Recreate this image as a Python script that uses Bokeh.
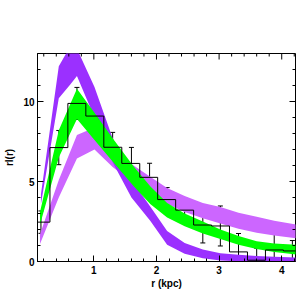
import math
from bokeh.plotting import figure
from bokeh.models import Range1d, ColumnDataSource, Whisker, TeeHead, FixedTicker
from bokeh.embed import file_html
from bokeh.resources import INLINE

# ---------------- data ----------------
# histogram (binned profile)
bin_edges = [0.012, 0.299, 0.585, 0.872, 1.159, 1.446, 1.733, 2.019, 2.306,
             2.593, 2.880, 3.166, 3.453, 3.740, 4.027, 4.314]
bin_centers = [0.155, 0.44, 0.73, 1.01, 1.30, 1.60, 1.89, 2.17, 2.45,
               2.74, 3.02, 3.31, 3.60, 3.88, 4.17]
hist_vals = [2.46, 7.12, 9.88, 9.09, 7.14, 6.13, 5.26, 3.87, 3.21,
             2.28, 2.22, 0.60, 0.08, 0.72, 0.66]
hist_err = [0.70, 1.07, 1.00, 0.90, 0.93, 1.00, 0.88, 0.75, 0.76,
            1.12, 1.25, 1.15, 0.75, 1.00, 0.65]

# dark purple band
purple_x = [0.155, 0.44, 0.63, 0.73, 1.01, 1.30, 1.60, 1.90, 2.17, 2.45,
            2.74, 3.02, 3.31, 3.60, 3.88, 4.25]
purple_hi = [4.2, 12.2, 13.5, 13.3, 10.9, 7.7, 5.1, 3.43, 1.9, 1.15,
             0.75, 0.52, 0.42, 0.35, 0.30, 0.25]
purple_lo = [3.6, 10.2, 11.1, 11.6, 9.0, 6.2, 4.0, 2.55, 1.05, 0.48,
             0.2, 0.06, 0.02, 0.0, 0.0, 0.0]

# green band
green_x = [0.14, 0.44, 0.73, 1.01, 1.30, 1.64, 1.90, 2.17, 2.45, 2.74,
           3.02, 3.31, 3.60, 3.88, 4.25]
green_hi = [3.1, 8.2, 10.8, 9.3, 7.7, 5.92, 4.7, 3.65, 3.0, 2.5,
            2.0, 1.6, 1.27, 1.12, 1.05]
green_lo = [2.3, 6.5, 8.9, 7.6, 6.25, 4.68, 3.6, 2.75, 2.2, 1.75,
            1.4, 1.05, 0.78, 0.6, 0.43]

# light purple (orchid) band
orchid_x = [0.14, 0.44, 0.73, 1.01, 1.30, 1.60, 1.90, 2.17, 2.45, 2.74,
            3.02, 3.31, 3.60, 3.88, 4.25]
orchid_hi = [1.7, 5.1, 7.9, 8.37, 7.2, 6.1, 5.3, 4.6, 4.1, 3.65,
             3.4, 3.05, 2.8, 2.55, 2.3]
orchid_lo = [1.1, 4.0, 6.44, 7.0, 5.9, 5.0, 4.35, 3.6, 3.1, 2.7,
             2.38, 2.05, 1.8, 1.62, 1.45]

x_range = (0.1, 4.22)
y_range = (0, 13)
x_ticks = [1, 2, 3, 4]
x_minor = [0.2, 0.4, 0.6, 0.8, 1.2, 1.4, 1.6, 1.8, 2.2, 2.4, 2.6, 2.8,
           3.2, 3.4, 3.6, 3.8, 4.2]
y_ticks = [0, 5, 10]
y_minor = [1, 2, 3, 4, 6, 7, 8, 9, 11, 12, 13]

# ---------------- figure ----------------
p = figure(width=299, height=291, output_backend="svg", toolbar_location=None,
           x_range=Range1d(*x_range), y_range=Range1d(*y_range),
           min_border_left=37, min_border_right=4, min_border_top=53,
           min_border_bottom=0)
p.grid.visible = False
p.outline_line_color = "black"
p.outline_line_width = 1
p.background_fill_color = "white"
p.border_fill_color = "white"

p.varea(x=orchid_x, y1=orchid_lo, y2=orchid_hi, fill_color="#cc66ff")
p.varea(x=purple_x, y1=purple_lo, y2=purple_hi, fill_color="#9b30ff")
p.varea(x=green_x, y1=green_lo, y2=green_hi, fill_color="#00ff00")

p.step(x=bin_edges, y=hist_vals + [hist_vals[-1]], mode="after",
       line_color="black", line_width=1)

src = ColumnDataSource(dict(
    x=bin_centers,
    lo=[v - e for v, e in zip(hist_vals, hist_err)],
    hi=[v + e for v, e in zip(hist_vals, hist_err)],
))
w = Whisker(source=src, base="x", lower="lo", upper="hi", line_color="black",
            line_width=1,
            upper_head=TeeHead(size=5, line_color="black", line_width=1),
            lower_head=TeeHead(size=5, line_color="black", line_width=1))
p.add_layout(w)

font = "Liberation Sans"

def style(ax):
    ax.major_tick_in = 6
    ax.major_tick_out = 0
    ax.minor_tick_in = 3
    ax.minor_tick_out = 0
    ax.axis_line_color = "black"
    ax.major_tick_line_color = "black"
    ax.minor_tick_line_color = "black"
    ax.major_label_text_font = font
    ax.major_label_text_font_style = "bold"
    ax.major_label_text_font_size = "10px"
    ax.major_label_text_color = "black"
    ax.axis_label_text_font = font
    ax.axis_label_text_font_style = "bold"
    ax.axis_label_text_font_size = "10px"
    ax.axis_label_text_color = "black"

xa = p.xaxis[0]
xa.ticker = FixedTicker(ticks=x_ticks, minor_ticks=x_minor)
xa.axis_label = "r (kpc)"
style(xa)
xa.major_label_standoff = 4
xa.axis_label_standoff = 1

ya = p.yaxis[0]
ya.ticker = FixedTicker(ticks=y_ticks, minor_ticks=y_minor)
ya.axis_label = "rl(r)"
style(ya)
ya.major_label_standoff = 3
ya.axis_label_standoff = 5

# inward ticks along the top and right edges of the frame (screen-length rays)
p.ray(x=x_ticks, y=[y_range[1]] * len(x_ticks), length=6, length_units="screen",
      angle=-math.pi / 2, line_color="black", line_width=1)
p.ray(x=x_minor, y=[y_range[1]] * len(x_minor), length=3, length_units="screen",
      angle=-math.pi / 2, line_color="black", line_width=1)
p.ray(x=[x_range[1]] * len(y_ticks), y=y_ticks, length=6, length_units="screen",
      angle=math.pi, line_color="black", line_width=1)
p.ray(x=[x_range[1]] * len(y_minor), y=y_minor, length=3, length_units="screen",
      angle=math.pi, line_color="black", line_width=1)

open("out.html", "w").write(file_html(p, INLINE))
